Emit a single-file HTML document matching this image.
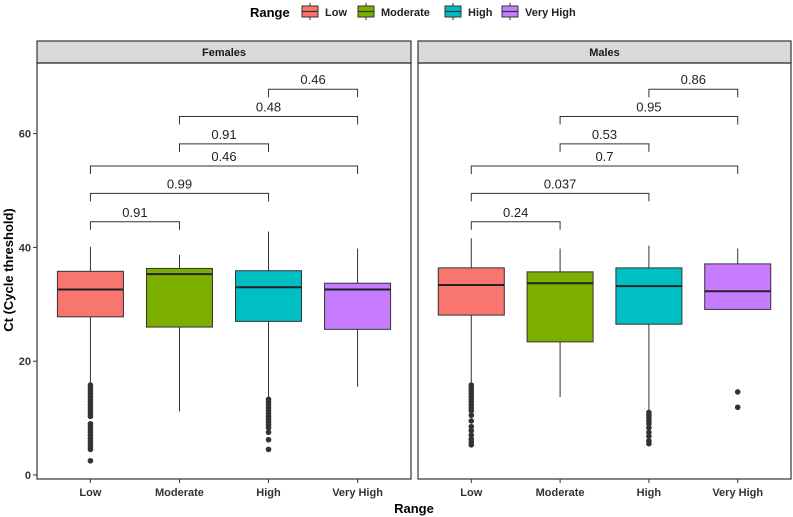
<!DOCTYPE html>
<html><head><meta charset="utf-8"><style>
html,body{margin:0;padding:0;background:#fff}
svg{display:block;font-family:"Liberation Sans",Arial,sans-serif}
</style></head><body>
<svg id="chart" width="793" height="517" viewBox="0 0 793 517"></svg>
<script>
const categories=["Low","Moderate","High","Very High"];
const colors=["#F8766D","#7CAE00","#00BFC4","#C77CFF"];
const panels=["Females","Males"];
const yTicks=[0,20,40,60];
// per panel: [lowerWhisker, q1, median, q3, upperWhisker]
const femalesStats=[[16,27.8,32.6,35.8,40.1],[11.2,26.0,35.3,36.3,38.7],[13.6,27.0,33.0,35.9,42.8],[15.5,25.6,32.6,33.7,39.8]];
const malesStats=[[16,28.1,33.4,36.4,41.6],[13.7,23.4,33.7,35.7,39.8],[11.2,26.5,33.2,36.4,40.3],[29.1,29.1,32.3,37.1,39.8]];
const femalesOutliers=[[15.8,15.3,14.8,14.3,13.8,13.3,12.8,12.3,11.8,11.3,10.8,10.3,9.0,8.5,8.0,7.5,7.0,6.5,6.0,5.5,5.0,4.5,2.5],[],[13.3,12.8,12.3,11.8,11.3,10.8,10.3,9.8,9.3,8.8,8.3,7.5,6.2,4.5],[]];
const malesOutliers=[[15.8,15.3,14.8,14.3,13.8,13.3,12.8,12.3,11.8,11.3,10.5,9.5,8.5,7.8,7.0,6.3,5.8,5.3],[],[11.0,10.5,10.0,9.5,9.0,8.3,7.5,6.8,6.0,5.5],[14.6,11.9]];
const comparisons=[[0,1],[0,2],[0,3],[1,2],[1,3],[2,3]];
const femalesP=["0.91","0.99","0.46","0.91","0.48","0.46"];
const malesP=["0.24","0.037","0.7","0.53","0.95","0.86"];
const bracketY=[44.5,49.5,54.3,58.2,63.0,67.8];

const NS="http://www.w3.org/2000/svg";
const svg=document.getElementById('chart');
function el(tag,attrs,parent,text){const e=document.createElementNS(NS,tag);for(const k in attrs)e.setAttribute(k,attrs[k]);if(text!==undefined)e.textContent=text;(parent||svg).appendChild(e);return e;}
const panelX=[[37,411],[418,791]];
const pTop=63,pBot=479;
function y(v){return 475-v*5.69;}
function x(p,i){const w=panelX[p][1]-panelX[p][0];return panelX[p][0]+w*(0.5+i)/4.2+w*0.1/4.2*0;}
function xc(p,i){const [a,b]=panelX[p];const w=b-a;return a+w*(0.6+i)/4.2;}
const statsAll=[femalesStats,malesStats],outAll=[femalesOutliers,malesOutliers],pAll=[femalesP,malesP];
const bw=66;
for(let p=0;p<2;p++){
  const [a,b]=panelX[p];
  const g=el('g',{},svg);
  
  
  const s=el('rect',{x:a,y:41,width:b-a,height:pTop-41,fill:'#d9d9d9',stroke:'#333','stroke-width':1.2},g);
  
  
  const st=el('text',{x:(a+b)/2,y:56,'text-anchor':'middle','font-size':11,'font-weight':'bold',fill:'#1a1a1a'},g,panels[p]);
  
  
  for(let i=0;i<4;i++){
    const cx=xc(p,i),d=statsAll[p][i];
    const bg=el('g',{},g);
    
    
    el('line',{x1:cx,x2:cx,y1:y(d[4]),y2:y(d[3]),stroke:'#333','stroke-width':1},bg);
    el('line',{x1:cx,x2:cx,y1:y(d[1]),y2:y(d[0]),stroke:'#333','stroke-width':1},bg);
    el('rect',{x:cx-bw/2,y:y(d[3]),width:bw,height:y(d[1])-y(d[3]),fill:colors[i],stroke:'#333','stroke-width':1},bg);
    el('line',{x1:cx-bw/2,x2:cx+bw/2,y1:y(d[2]),y2:y(d[2]),stroke:'#222','stroke-width':2},bg);
    outAll[p][i].forEach(v=>{const c=el('circle',{cx:cx,cy:y(v),r:2.8,fill:'#333'},bg);
      
      });
    el('line',{x1:cx,x2:cx,y1:pBot,y2:pBot+4,stroke:'#333'},g);
    const tl=el('text',{x:cx,y:496,'text-anchor':'middle','font-size':11,'font-weight':'bold',fill:'#333'},g,categories[i]);
    
    
  }
  comparisons.forEach((c,k)=>{
    const x1=xc(p,c[0]),x2=xc(p,c[1]),yy=y(bracketY[k]);
    const br=el('path',{d:`M${x1},${yy+8}V${yy}H${x2}V${yy+8}`,fill:'none',stroke:'#333','stroke-width':1},g);
    
    
    const t=el('text',{x:(x1+x2)/2,y:yy-5,'text-anchor':'middle','font-size':13,fill:'#222'},g,pAll[p][k]);
    
    
  });
  const fr=el('rect',{x:a,y:pTop,width:b-a,height:pBot-pTop,fill:'none',stroke:'#333','stroke-width':1.2},g);
  
  
}
yTicks.forEach(v=>{
  el('line',{x1:33,x2:37,y1:y(v),y2:y(v),stroke:'#333'});
  const t=el('text',{x:31,y:y(v)+4,'text-anchor':'end','font-size':11,'font-weight':'bold',fill:'#333'},svg,String(v));
  
  
});
const yt=el('text',{x:0,y:0,transform:'translate(13,270) rotate(-90)','text-anchor':'middle','font-size':13,'font-weight':'bold'},svg,'Ct (Cycle threshold)');


const xt=el('text',{x:414,y:513,'text-anchor':'middle','font-size':13,'font-weight':'bold'},svg,'Range');


// legend
const lg=el('g',{},svg);


el('text',{x:250,y:17,'font-size':13,'font-weight':'bold'},lg,'Range');
const keyX=[302,358,445,502];
categories.forEach((c,i)=>{
  const e=el('g',{},lg);
  
  
  const kx=keyX[i];
  el('line',{x1:kx+8,x2:kx+8,y1:3,y2:20,stroke:'#333'},e);
  el('rect',{x:kx,y:6,width:16,height:11,fill:colors[i],stroke:'#333'},e);
  el('line',{x1:kx,x2:kx+16,y1:11.5,y2:11.5,stroke:'#333','stroke-width':1.2},e);
  el('text',{x:kx+23,y:16,'font-size':11,'font-weight':'bold',fill:'#222'},e,c);
});
</script>
</body></html>
